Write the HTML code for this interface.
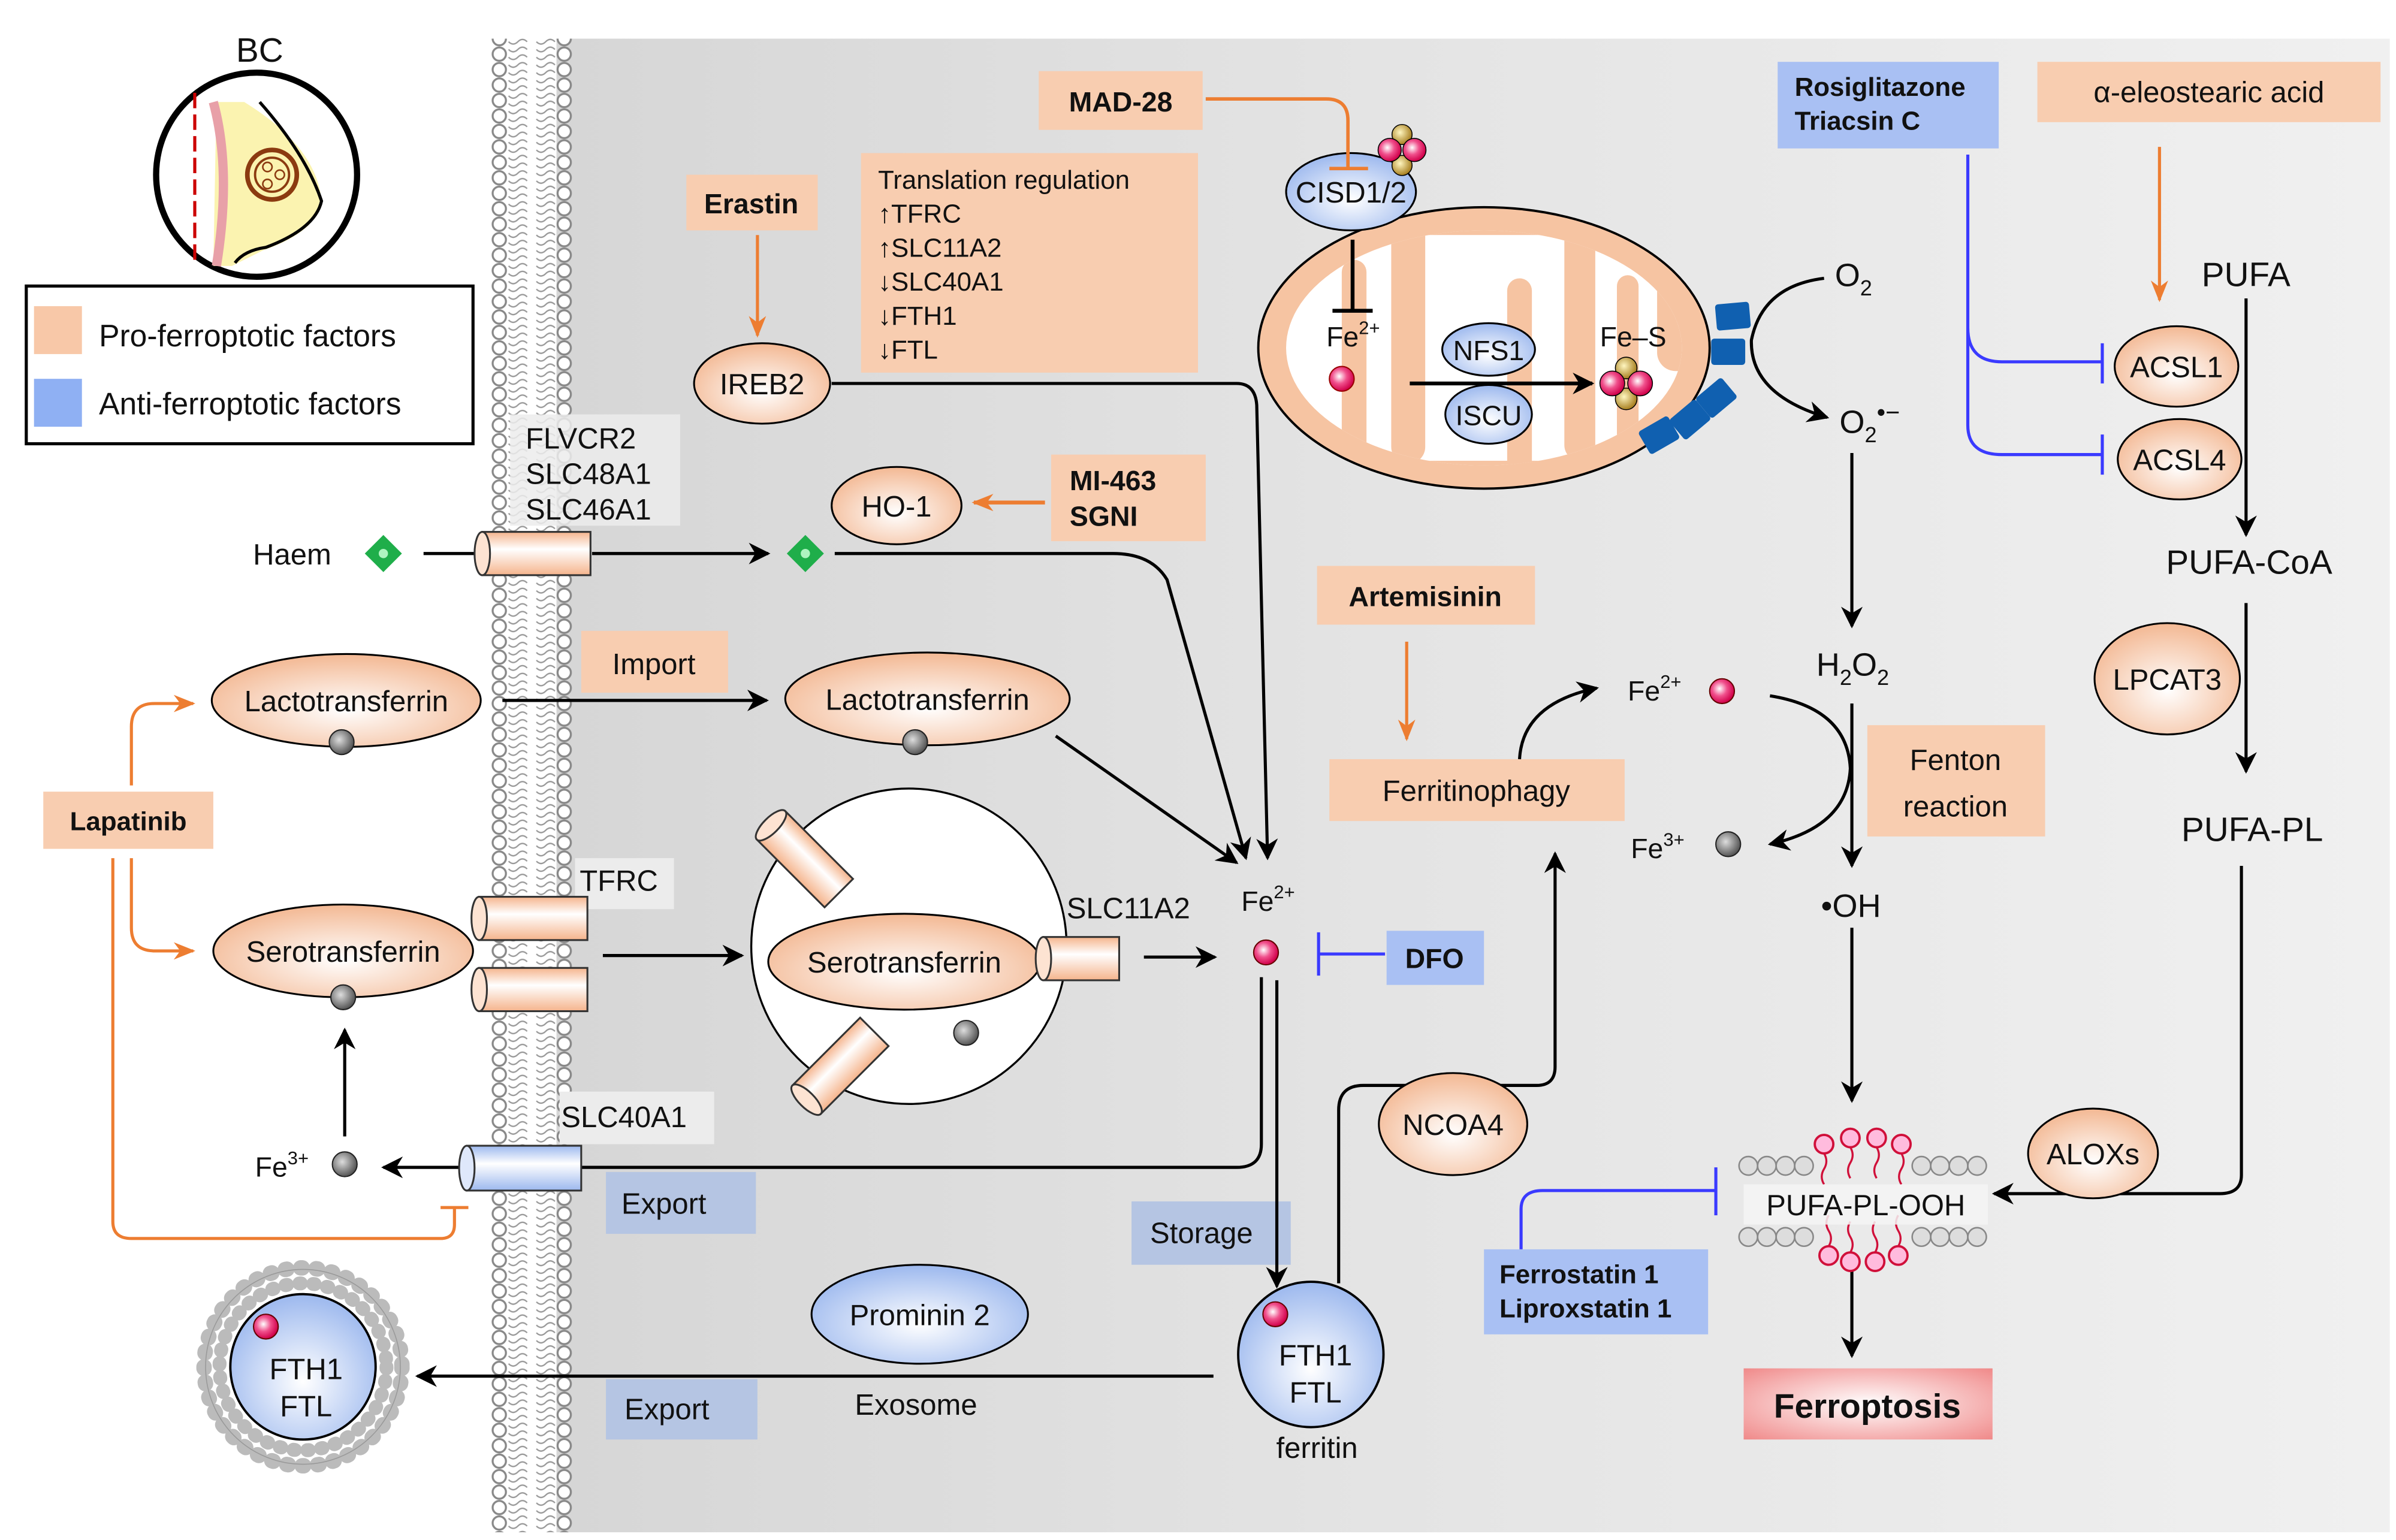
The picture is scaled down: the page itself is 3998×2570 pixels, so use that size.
<!DOCTYPE html>
<html><head><meta charset="utf-8"><style>html,body{margin:0;padding:0;background:#fff}svg{display:block}text{font-family:"Liberation Sans",sans-serif;fill:#111}</style></head><body>
<svg width="3998" height="2570" viewBox="0 0 1550 996" preserveAspectRatio="none" xmlns="http://www.w3.org/2000/svg">
<defs>
<marker id="ak" viewBox="0 0 10 10" refX="9" refY="5" markerWidth="14" markerHeight="14" orient="auto" markerUnits="userSpaceOnUse"><path d="M0,0 L10,5 L0,10 L3,5z" fill="#000"/></marker>
<marker id="ao" viewBox="0 0 10 10" refX="9" refY="5" markerWidth="14" markerHeight="14" orient="auto" markerUnits="userSpaceOnUse"><path d="M0,1 L10,5 L0,9 L3,5z" fill="#ed7d31"/></marker>
<linearGradient id="bg" x1="0" x2="1"><stop offset="0" stop-color="#d6d6d6"/><stop offset="0.45" stop-color="#e4e4e4"/><stop offset="1" stop-color="#f0f0f0"/></linearGradient>
<radialGradient id="og" cx="0.5" cy="0.6" r="0.6"><stop offset="0" stop-color="#fff"/><stop offset="1" stop-color="#f3b893"/></radialGradient>
<radialGradient id="blg" cx="0.5" cy="0.6" r="0.6"><stop offset="0" stop-color="#fff"/><stop offset="1" stop-color="#9cb8ee"/></radialGradient>
<radialGradient id="rd" cx="0.4" cy="0.4" r="0.6"><stop offset="0" stop-color="#fff"/><stop offset="0.5" stop-color="#f0508c"/><stop offset="1" stop-color="#d0004a"/></radialGradient>
<radialGradient id="gd" cx="0.4" cy="0.4" r="0.6"><stop offset="0" stop-color="#ddd"/><stop offset="1" stop-color="#555"/></radialGradient>
<radialGradient id="yd" cx="0.4" cy="0.4" r="0.6"><stop offset="0" stop-color="#fff6c0"/><stop offset="1" stop-color="#a88020"/></radialGradient>
<radialGradient id="pk" cx="0.5" cy="0.5" r="0.7"><stop offset="0" stop-color="#fff"/><stop offset="1" stop-color="#f08a8a"/></radialGradient>
<linearGradient id="cyl" x1="0" y1="0" x2="0" y2="1"><stop offset="0" stop-color="#f5b48c"/><stop offset="0.4" stop-color="#fff"/><stop offset="1" stop-color="#f5b48c"/></linearGradient>
<linearGradient id="cylb" x1="0" y1="0" x2="0" y2="1"><stop offset="0" stop-color="#9cb8ee"/><stop offset="0.4" stop-color="#fff"/><stop offset="1" stop-color="#9cb8ee"/></linearGradient>
<pattern id="mem" x="318" y="0" width="52" height="10" patternUnits="userSpaceOnUse">
<circle cx="5" cy="5" r="4.3" fill="#fff" stroke="#888" stroke-width="1.3"/><circle cx="47" cy="5" r="4.3" fill="#fff" stroke="#888" stroke-width="1.3"/>
<path d="M11,2 q3,3 6,0 t6,0 M11,7 q3,3 6,0 t6,0 M29,2 q3,3 6,0 t6,0 M29,7 q3,3 6,0 t6,0" stroke="#999" fill="none" stroke-width="0.9"/>
</pattern>
<clipPath id="mc"><ellipse cx="960" cy="225" rx="128" ry="76"/></clipPath>
<g id="cyl1"><rect x="0" y="-14" width="70" height="28" fill="url(#cyl)" stroke="#333" stroke-width="1.2"/><ellipse cx="0" cy="0" rx="5" ry="14" fill="#fde3d2" stroke="#333" stroke-width="1.2"/></g>
</defs>
<rect width="1550" height="996" fill="#fff"/>
<rect x="360" y="25" width="1186" height="966" fill="url(#bg)"/>
<rect x="318" y="25" width="52" height="966" fill="url(#mem)"/>

<!-- BC -->
<text x="168" y="40" font-size="22" text-anchor="middle">BC</text>
<ellipse cx="166" cy="113" rx="65" ry="66" fill="#fff" stroke="#000" stroke-width="4"/>
<path d="M140,66 L158,66 Q205,95 208,130 Q205,150 170,162 L150,172 L138,172 Z" fill="#fbf3b0"/>
<path d="M138,66 Q150,110 140,172" stroke="#e8a0a8" stroke-width="6" fill="none"/>
<line x1="126" y1="60" x2="126" y2="172" stroke="#c00" stroke-width="2" stroke-dasharray="10 4"/>
<path d="M168,66 Q198,100 208,130 Q204,148 172,160 Q158,162 152,170" stroke="#000" stroke-width="2" fill="none"/>
<circle cx="176" cy="113" r="16" fill="none" stroke="#8b3a10" stroke-width="3"/><circle cx="176" cy="113" r="11" fill="none" stroke="#8b3a10" stroke-width="1.5"/>
<circle cx="173" cy="108" r="3" fill="none" stroke="#8b3a10"/><circle cx="181" cy="113" r="3" fill="none" stroke="#8b3a10"/><circle cx="173" cy="119" r="3" fill="none" stroke="#8b3a10"/>

<!-- Legend -->
<rect x="17" y="185" width="289" height="102" fill="#fff" stroke="#000" stroke-width="2"/>
<rect x="22" y="198" width="31" height="31" fill="#f8c8a8"/>
<rect x="22" y="245" width="31" height="31" fill="#8fb0f3"/>
<text x="64" y="224" font-size="20">Pro-ferroptotic factors</text>
<text x="64" y="268" font-size="20">Anti-ferroptotic factors</text>

<!-- Boxes -->
<g font-size="18">
<rect x="672" y="46" width="106" height="38" fill="#f8cdb0"/><text x="725" y="72" text-anchor="middle" font-weight="bold">MAD-28</text>
<rect x="444" y="113" width="85" height="36" fill="#f8cdb0"/><text x="486" y="138" text-anchor="middle" font-weight="bold">Erastin</text>
<rect x="557" y="99" width="218" height="142" fill="#f8cdb0"/>
<text x="568" y="122" font-size="17">Translation regulation</text>
<text x="568" y="144" font-size="17">↑TFRC</text><text x="568" y="166" font-size="17">↑SLC11A2</text><text x="568" y="188" font-size="17">↓SLC40A1</text><text x="568" y="210" font-size="17">↓FTH1</text><text x="568" y="232" font-size="17">↓FTL</text>
<rect x="680" y="294" width="100" height="56" fill="#f8cdb0"/><text x="692" y="317" font-weight="bold">MI-463</text><text x="692" y="340" font-weight="bold">SGNI</text>
<rect x="330" y="268" width="110" height="72" fill="#ececec" opacity="0.85"/>
<text x="340" y="290" font-size="19">FLVCR2</text><text x="340" y="313" font-size="19">SLC48A1</text><text x="340" y="336" font-size="19">SLC46A1</text>
<rect x="376" y="408" width="95" height="40" fill="#f8cdb0"/><text x="423" y="436" text-anchor="middle" font-size="19">Import</text>
<rect x="28" y="512" width="110" height="37" fill="#f8cdb0"/><text x="83" y="537" text-anchor="middle" font-weight="bold" font-size="17">Lapatinib</text>
<rect x="372" y="555" width="64" height="33" fill="#ececec"/><text x="375" y="576" font-size="19">TFRC</text>
<text x="690" y="594" font-size="19">SLC11A2</text>
<rect x="362" y="706" width="100" height="34" fill="#ececec"/><text x="363" y="729" font-size="19">SLC40A1</text>
<rect x="392" y="758" width="97" height="40" fill="#b5c5e3"/><text x="402" y="785" font-size="19">Export</text>
<rect x="392" y="892" width="98" height="39" fill="#b5c5e3"/><text x="404" y="918" font-size="19">Export</text>
<text x="553" y="915" font-size="19">Exosome</text>
<rect x="732" y="777" width="103" height="41" fill="#b5c5e3"/><text x="744" y="804" font-size="19">Storage</text>
<rect x="897" y="602" width="63" height="35" fill="#a9c0f3"/><text x="928" y="626" text-anchor="middle" font-weight="bold">DFO</text>
<rect x="852" y="366" width="141" height="38" fill="#f8cdb0"/><text x="922" y="392" text-anchor="middle" font-weight="bold">Artemisinin</text>
<rect x="860" y="491" width="191" height="40" fill="#f8cdb0"/><text x="955" y="518" text-anchor="middle" font-size="19">Ferritinophagy</text>
<rect x="1208" y="469" width="115" height="72" fill="#f8cdb0"/><text x="1265" y="498" text-anchor="middle" font-size="19">Fenton</text><text x="1265" y="528" text-anchor="middle" font-size="19">reaction</text>
<rect x="1150" y="40" width="143" height="56" fill="#a9c0f3"/><text x="1161" y="62" font-weight="bold" font-size="17">Rosiglitazone</text><text x="1161" y="84" font-weight="bold" font-size="17">Triacsin C</text>
<rect x="1318" y="40" width="222" height="39" fill="#f8cdb0"/><text x="1429" y="66" text-anchor="middle" font-size="19">α-eleostearic acid</text>
<rect x="960" y="808" width="145" height="55" fill="#a9c0f3"/><text x="970" y="830" font-weight="bold" font-size="17">Ferrostatin 1</text><text x="970" y="852" font-weight="bold" font-size="17">Liproxstatin 1</text>
<rect x="1128" y="885" width="161" height="46" fill="url(#pk)"/><text x="1208" y="917" text-anchor="middle" font-weight="bold" font-size="22">Ferroptosis</text>
</g>

<!-- Mitochondrion -->
<ellipse cx="960" cy="225" rx="146" ry="91" fill="#f6c4a2" stroke="#000" stroke-width="1.5"/>
<g clip-path="url(#mc)">
<rect x="830" y="140" width="260" height="170" fill="#fff"/>
<g fill="#f6c4a2">
<rect x="830" y="140" width="300" height="12"/>
<rect x="830" y="298" width="300" height="14"/>
<rect x="868" y="168" width="16" height="150" rx="8"/>
<rect x="975" y="180" width="16" height="140" rx="8"/>
<rect x="1046" y="178" width="14" height="140" rx="7"/>
<rect x="900" y="130" width="22" height="170" rx="11"/>
<rect x="935" y="130" width="14" height="160" rx="7" opacity="0"/>
<rect x="1012" y="130" width="20" height="168" rx="10"/>
<rect x="1072" y="130" width="30" height="110" rx="12"/>
</g>
</g>
<path d="M875,155 L875,201 M862,201 L888,201" stroke="#000" stroke-width="2.5" fill="none"/>
<text x="858" y="224" font-size="18">Fe<tspan font-size="12" dy="-8">2+</tspan></text>
<circle cx="868" cy="245" r="8" fill="url(#rd)" stroke="#900" stroke-width="0.8"/>
<line x1="912" y1="248" x2="1030" y2="248" stroke="#000" stroke-width="2.5" marker-end="url(#ak)"/>
<ellipse cx="963" cy="226" rx="30" ry="17" fill="url(#blg)" stroke="#000" stroke-width="1.2"/><text x="963" y="233" text-anchor="middle" font-size="18">NFS1</text>
<ellipse cx="963" cy="268" rx="28" ry="19" fill="url(#blg)" stroke="#000" stroke-width="1.2"/><text x="963" y="275" text-anchor="middle" font-size="18">ISCU</text>
<text x="1035" y="224" font-size="18">Fe–S</text>
<g transform="translate(1052,248)"><circle cx="0" cy="-10" r="7" fill="url(#yd)" stroke="#000" stroke-width="0.6"/><circle cx="0" cy="10" r="7" fill="url(#yd)" stroke="#000" stroke-width="0.6"/><circle cx="-9" cy="0" r="8" fill="url(#rd)" stroke="#000" stroke-width="0.6"/><circle cx="9" cy="0" r="8" fill="url(#rd)" stroke="#000" stroke-width="0.6"/></g>
<g fill="#1060b0">
<rect x="1110" y="196" width="22" height="17" rx="2" transform="rotate(-5 1121 204)"/>
<rect x="1107" y="219" width="22" height="17" rx="2"/>
<rect x="1099" y="249" width="22" height="17" rx="2" transform="rotate(-40 1110 257)"/>
<rect x="1082" y="263" width="22" height="17" rx="2" transform="rotate(-40 1093 271)"/>
<rect x="1062" y="273" width="22" height="17" rx="2" transform="rotate(-30 1073 281)"/>
</g>
<ellipse cx="874" cy="124" rx="42" ry="25" fill="url(#blg)" stroke="#000" stroke-width="1.2"/><text x="874" y="131" text-anchor="middle" font-size="19">CISD1/2</text>
<g transform="translate(907,97)"><circle cx="0" cy="-10" r="6.5" fill="url(#yd)" stroke="#000" stroke-width="0.6"/><circle cx="0" cy="10" r="6.5" fill="url(#yd)" stroke="#000" stroke-width="0.6"/><circle cx="-8" cy="0" r="7.5" fill="url(#rd)" stroke="#000" stroke-width="0.6"/><circle cx="8" cy="0" r="7.5" fill="url(#rd)" stroke="#000" stroke-width="0.6"/></g>
<path d="M780,64 L858,64 Q872,64 872,78 L872,108 M860,109 L885,109" stroke="#ed7d31" stroke-width="2.2" fill="none"/>

<!-- O2 -->
<text x="1187" y="185" font-size="21">O<tspan font-size="14" dy="6">2</tspan></text>
<path d="M1180,180 Q1140,185 1133,220 Q1132,255 1182,270" stroke="#000" stroke-width="2" fill="none" marker-end="url(#ak)"/>
<text x="1190" y="280" font-size="21">O<tspan font-size="14" dy="6">2</tspan><tspan dy="-14" font-size="16">•−</tspan></text>
<line x1="1198" y1="293" x2="1198" y2="405" stroke="#000" stroke-width="2" marker-end="url(#ak)"/>
<text x="1175" y="437" font-size="21">H<tspan font-size="14" dy="6">2</tspan><tspan dy="-6">O</tspan><tspan font-size="14" dy="6">2</tspan></text>
<line x1="1198" y1="455" x2="1198" y2="560" stroke="#000" stroke-width="2" marker-end="url(#ak)"/>
<text x="1178" y="593" font-size="21">•OH</text>
<line x1="1198" y1="600" x2="1198" y2="712" stroke="#000" stroke-width="2" marker-end="url(#ak)"/>
<line x1="1198" y1="820" x2="1198" y2="877" stroke="#000" stroke-width="2" marker-end="url(#ak)"/>

<text x="1053" y="453" font-size="18">Fe<tspan font-size="12" dy="-8">2+</tspan></text>
<circle cx="1114" cy="447" r="8" fill="url(#rd)" stroke="#600" stroke-width="0.8"/>
<text x="1055" y="555" font-size="18">Fe<tspan font-size="12" dy="-8">3+</tspan></text>
<circle cx="1118" cy="546" r="8" fill="url(#gd)" stroke="#222" stroke-width="0.8"/>
<path d="M1145,450 Q1195,458 1197,497 Q1195,535 1145,546" stroke="#000" stroke-width="2" fill="none" marker-end="url(#ak)"/>
<path d="M983,491 Q985,455 1033,445" stroke="#000" stroke-width="2" fill="none" marker-end="url(#ak)"/>
<line x1="910" y1="415" x2="910" y2="478" stroke="#ed7d31" stroke-width="2" marker-end="url(#ao)"/>

<!-- right lipid pathway -->
<path d="M1273,100 L1273,212 Q1273,234 1295,234 L1360,234 M1360,222 L1360,248 M1273,212 L1273,275 Q1273,294 1295,294 L1360,294 M1360,281 L1360,307" stroke="#3a3aff" stroke-width="2" fill="none"/>
<line x1="1397" y1="95" x2="1397" y2="194" stroke="#ed7d31" stroke-width="2" marker-end="url(#ao)"/>
<text x="1453" y="185" text-anchor="middle" font-size="22">PUFA</text>
<ellipse cx="1408" cy="237" rx="40" ry="26" fill="url(#og)" stroke="#000" stroke-width="1.2"/><text x="1408" y="244" text-anchor="middle" font-size="19">ACSL1</text>
<ellipse cx="1410" cy="297" rx="40" ry="26" fill="url(#og)" stroke="#000" stroke-width="1.2"/><text x="1410" y="304" text-anchor="middle" font-size="19">ACSL4</text>
<line x1="1453" y1="193" x2="1453" y2="346" stroke="#000" stroke-width="2" marker-end="url(#ak)"/>
<text x="1455" y="371" text-anchor="middle" font-size="22">PUFA-CoA</text>
<line x1="1453" y1="390" x2="1453" y2="499" stroke="#000" stroke-width="2" marker-end="url(#ak)"/>
<ellipse cx="1402" cy="439" rx="47" ry="36" fill="url(#og)" stroke="#000" stroke-width="1.2"/><text x="1402" y="446" text-anchor="middle" font-size="19">LPCAT3</text>
<text x="1457" y="544" text-anchor="middle" font-size="22">PUFA-PL</text>
<path d="M1450,560 L1450,760 Q1450,772 1436,772 L1290,772" stroke="#000" stroke-width="2" fill="none" marker-end="url(#ak)"/>
<ellipse cx="1354" cy="746" rx="42" ry="29" fill="url(#og)" stroke="#000" stroke-width="1.2"/><text x="1354" y="753" text-anchor="middle" font-size="19">ALOXs</text>

<!-- PUFA-PL-OOH membrane -->
<g fill="#ddd" stroke="#888" stroke-width="1">
<circle cx="1131" cy="754" r="6"/><circle cx="1143" cy="754" r="6"/><circle cx="1155" cy="754" r="6"/><circle cx="1167" cy="754" r="6"/>
<circle cx="1243" cy="754" r="6"/><circle cx="1255" cy="754" r="6"/><circle cx="1267" cy="754" r="6"/><circle cx="1279" cy="754" r="6"/>
<circle cx="1131" cy="800" r="6"/><circle cx="1143" cy="800" r="6"/><circle cx="1155" cy="800" r="6"/><circle cx="1167" cy="800" r="6"/>
<circle cx="1243" cy="800" r="6"/><circle cx="1255" cy="800" r="6"/><circle cx="1267" cy="800" r="6"/><circle cx="1279" cy="800" r="6"/>
</g>
<g fill="#fbd" stroke="#d0103a" stroke-width="1.5">
<circle cx="1180" cy="740" r="6"/><circle cx="1197" cy="736" r="6"/><circle cx="1214" cy="736" r="6"/><circle cx="1230" cy="740" r="6"/>
<circle cx="1183" cy="812" r="6"/><circle cx="1197" cy="816" r="6"/><circle cx="1213" cy="816" r="6"/><circle cx="1228" cy="812" r="6"/>
</g>
<path d="M1180,746 q3,5 0,10 t0,10 M1197,742 q3,5 0,10 t0,10 M1214,742 q3,5 0,10 t0,10 M1230,746 q3,5 0,10 t0,10 M1183,806 q3,-5 0,-10 t0,-10 M1197,810 q3,-5 0,-10 t0,-10 M1213,810 q3,-5 0,-10 t0,-10 M1228,806 q3,-5 0,-10 t0,-10" stroke="#d0103a" stroke-width="1.3" fill="none"/>
<rect x="1128" y="766" width="158" height="26" fill="#f4f4f4" opacity="0.85"/>
<text x="1207" y="786" text-anchor="middle" font-size="19">PUFA-PL-OOH</text>
<path d="M984,808 L984,782 Q984,770 998,770 L1110,770 M1110,755 L1110,786" stroke="#3a3aff" stroke-width="2" fill="none"/>

<!-- Central Fe2+ -->
<text x="803" y="589" font-size="18">Fe<tspan font-size="12" dy="-8">2+</tspan></text>
<circle cx="819" cy="616" r="8" fill="url(#rd)" stroke="#600" stroke-width="0.8"/>
<path d="M896,617 L853,617 M853,603 L853,631" stroke="#3a3aff" stroke-width="2" fill="none"/>
<path d="M538,248 L800,248 Q812,248 813,262 L820,555" stroke="#000" stroke-width="2" fill="none" marker-end="url(#ak)"/>
<path d="M540,358 L720,358 Q745,358 755,375 L806,555" stroke="#000" stroke-width="2" fill="none" marker-end="url(#ak)"/>
<line x1="683" y1="476" x2="800" y2="558" stroke="#000" stroke-width="2" marker-end="url(#ak)"/>
<path d="M816,632 L816,740 Q816,755 800,755 L300,755" stroke="#000" stroke-width="2" fill="none"/>
<line x1="300" y1="755" x2="248" y2="755" stroke="#000" stroke-width="2" marker-end="url(#ak)"/>
<line x1="826" y1="634" x2="826" y2="832" stroke="#000" stroke-width="2" marker-end="url(#ak)"/>
<path d="M866,830 L866,718 Q866,702 882,702 L994,702 Q1006,702 1006,690 L1006,552" stroke="#000" stroke-width="2" fill="none" marker-end="url(#ak)"/>
<ellipse cx="940" cy="727" rx="48" ry="33" fill="url(#og)" stroke="#000" stroke-width="1.2"/><text x="940" y="734" text-anchor="middle" font-size="19">NCOA4</text>

<!-- ferritin -->
<circle cx="848" cy="876" r="47" fill="url(#blg)" stroke="#000" stroke-width="1.5"/>
<circle cx="825" cy="850" r="8" fill="url(#rd)" stroke="#600" stroke-width="0.8"/>
<text x="851" y="883" text-anchor="middle" font-size="19">FTH1</text><text x="851" y="907" text-anchor="middle" font-size="19">FTL</text>
<text x="852" y="943" text-anchor="middle" font-size="19">ferritin</text>
<line x1="785" y1="890" x2="270" y2="890" stroke="#000" stroke-width="2" marker-end="url(#ak)"/>
<ellipse cx="595" cy="850" rx="70" ry="32" fill="url(#blg)" stroke="#000" stroke-width="1.2"/><text x="595" y="857" text-anchor="middle" font-size="19">Prominin 2</text>

<!-- exosome -->
<circle cx="196" cy="884" r="64" fill="none" stroke="#bbb" stroke-width="10" stroke-dasharray="1 9" stroke-linecap="round"/>
<circle cx="196" cy="884" r="63" fill="none" stroke="#999" stroke-width="0.6"/>
<circle cx="196" cy="884" r="54" fill="none" stroke="#bbb" stroke-width="9" stroke-dasharray="1 8" stroke-linecap="round"/>
<circle cx="196" cy="884" r="47" fill="url(#blg)" stroke="#000" stroke-width="1.5"/>
<circle cx="172" cy="858" r="8" fill="url(#rd)" stroke="#600" stroke-width="0.8"/>
<text x="198" y="892" text-anchor="middle" font-size="19">FTH1</text><text x="198" y="916" text-anchor="middle" font-size="19">FTL</text>

<!-- Haem -->
<text x="189" y="365" text-anchor="middle" font-size="19">Haem</text>
<path d="M248,346 L260,358 L248,370 L236,358Z" fill="#1fae4a"/><circle cx="248" cy="358" r="3" fill="#aef5c0"/>
<line x1="274" y1="358" x2="310" y2="358" stroke="#000" stroke-width="2"/>
<use href="#cyl1" x="312" y="358"/>
<line x1="383" y1="358" x2="497" y2="358" stroke="#000" stroke-width="2" marker-end="url(#ak)"/>
<path d="M521,346 L533,358 L521,370 L509,358Z" fill="#1fae4a"/><circle cx="521" cy="358" r="3" fill="#aef5c0"/>
<ellipse cx="580" cy="327" rx="42" ry="25" fill="url(#og)" stroke="#000" stroke-width="1.2"/><text x="580" y="334" text-anchor="middle" font-size="19">HO-1</text>
<line x1="676" y1="325" x2="630" y2="325" stroke="#ed7d31" stroke-width="2.5" marker-end="url(#ao)"/>
<line x1="490" y1="152" x2="490" y2="217" stroke="#ed7d31" stroke-width="2" marker-end="url(#ao)"/>
<ellipse cx="493" cy="248" rx="44" ry="26" fill="url(#og)" stroke="#000" stroke-width="1.2"/><text x="493" y="255" text-anchor="middle" font-size="19">IREB2</text>

<!-- Lactotransferrin -->
<ellipse cx="224" cy="453" rx="87" ry="30" fill="url(#og)" stroke="#000" stroke-width="1.2"/><text x="224" y="460" text-anchor="middle" font-size="19">Lactotransferrin</text>
<circle cx="221" cy="480" r="8" fill="url(#gd)" stroke="#222" stroke-width="0.8"/>
<line x1="325" y1="453" x2="496" y2="453" stroke="#000" stroke-width="2" marker-end="url(#ak)"/>
<ellipse cx="600" cy="452" rx="92" ry="30" fill="url(#og)" stroke="#000" stroke-width="1.2"/><text x="600" y="459" text-anchor="middle" font-size="19">Lactotransferrin</text>
<circle cx="592" cy="480" r="8" fill="url(#gd)" stroke="#222" stroke-width="0.8"/>

<!-- Lapatinib lines -->
<path d="M85,508 L85,470 Q85,455 100,455 L125,455" stroke="#ed7d31" stroke-width="2" fill="none" marker-end="url(#ao)"/>
<path d="M85,555 L85,600 Q85,615 100,615 L125,615" stroke="#ed7d31" stroke-width="2" fill="none" marker-end="url(#ao)"/>
<path d="M73,555 L73,790 Q73,801 85,801 L285,801 Q294,801 294,792 L294,781 M285,781 L303,781" stroke="#ed7d31" stroke-width="2" fill="none"/>

<!-- Serotransferrin -->
<ellipse cx="222" cy="615" rx="84" ry="30" fill="url(#og)" stroke="#000" stroke-width="1.2"/><text x="222" y="622" text-anchor="middle" font-size="19">Serotransferrin</text>
<circle cx="222" cy="645" r="8" fill="url(#gd)" stroke="#222" stroke-width="0.8"/>
<use href="#cyl1" x="310" y="594"/><use href="#cyl1" x="310" y="640"/>
<line x1="223" y1="735" x2="223" y2="666" stroke="#000" stroke-width="2" marker-end="url(#ak)"/>
<text x="165" y="761" font-size="18">Fe<tspan font-size="12" dy="-8">3+</tspan></text>
<circle cx="223" cy="753" r="8" fill="url(#gd)" stroke="#222" stroke-width="0.8"/>
<rect x="302" y="741" width="74" height="29" fill="url(#cylb)" stroke="#333" stroke-width="1.2"/><ellipse cx="302" cy="755.5" rx="5" ry="14.5" fill="#dfe8fb" stroke="#333" stroke-width="1.2"/>
<line x1="390" y1="618" x2="480" y2="618" stroke="#000" stroke-width="2" marker-end="url(#ak)"/>

<!-- Endosome -->
<circle cx="588" cy="612" r="102" fill="#fff" stroke="#000" stroke-width="1.3"/>
<g transform="rotate(45 520 555)"><rect x="490" y="542" width="62" height="26" fill="url(#cyl)" stroke="#333" stroke-width="1.2"/><ellipse cx="490" cy="555" rx="5" ry="13" fill="#fde3d2" stroke="#333" stroke-width="1.2"/></g>
<g transform="rotate(-45 543 690)"><rect x="513" y="677" width="62" height="26" fill="url(#cyl)" stroke="#333" stroke-width="1.2"/><ellipse cx="513" cy="690" rx="5" ry="13" fill="#fde3d2" stroke="#333" stroke-width="1.2"/></g>
<ellipse cx="585" cy="622" rx="88" ry="31" fill="url(#og)" stroke="#000" stroke-width="1.2"/><text x="585" y="629" text-anchor="middle" font-size="19">Serotransferrin</text>
<circle cx="625" cy="668" r="8" fill="url(#gd)" stroke="#222" stroke-width="0.8"/>
<rect x="675" y="606" width="49" height="28" fill="url(#cyl)" stroke="#333" stroke-width="1.2"/><ellipse cx="675" cy="620" rx="5" ry="14" fill="#fde3d2" stroke="#333" stroke-width="1.2"/>
<line x1="740" y1="619" x2="786" y2="619" stroke="#000" stroke-width="2" marker-end="url(#ak)"/>
</svg>
</body></html>
